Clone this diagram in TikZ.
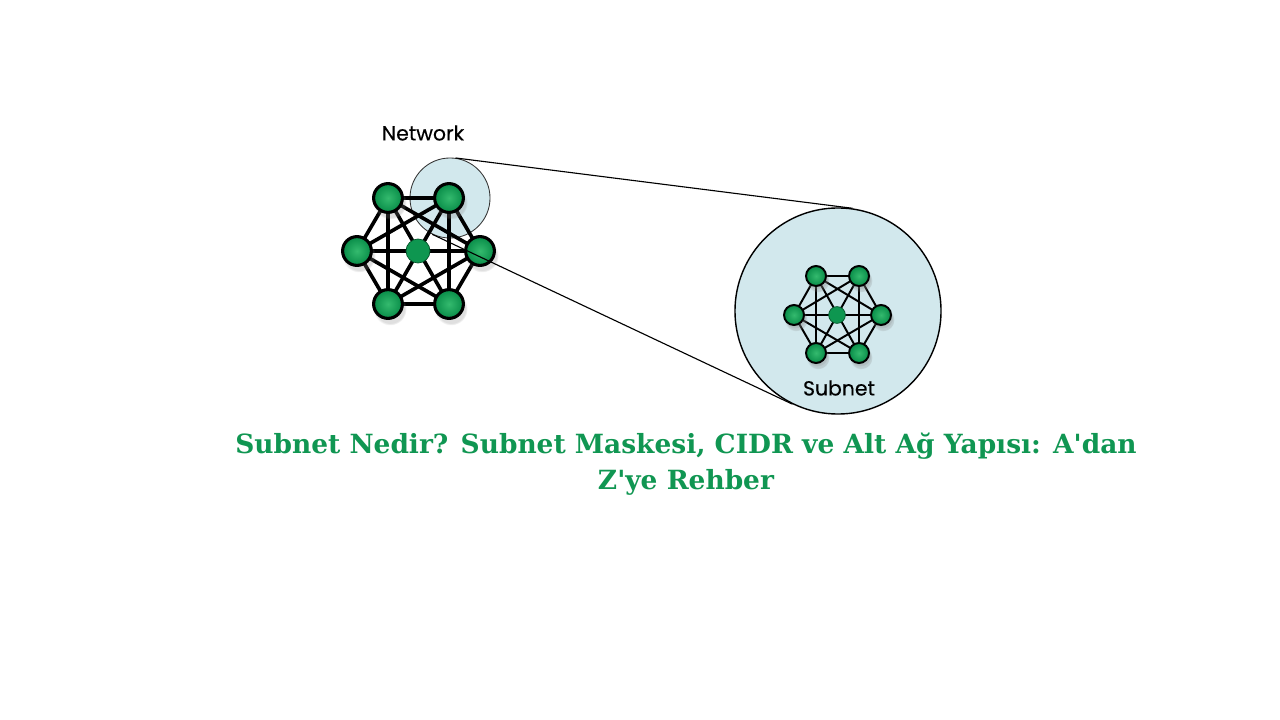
\documentclass[tikz,border=0pt]{standalone}
\usepackage{fontspec}
\newfontfamily\titlefont{DejaVu Serif}
\newfontfamily\labelfont[FakeBold=0.4]{Poppins}
\usepackage{tikz}
\usetikzlibrary{shadows}
\definecolor{nodegreen}{RGB}{8,140,72}
\definecolor{nodelight}{RGB}{52,186,110}
\definecolor{hubgreen}{RGB}{14,150,80}
\definecolor{zoomblue}{RGB}{210,232,237}
\definecolor{titlegreen}{RGB}{16,150,82}
\tikzset{
  host/.style={circle,draw=black,line width=2.2pt,inner sep=0pt,minimum size=0.72cm,inner color=nodelight,outer color=nodegreen,circular drop shadow={shadow xshift=0.3ex,shadow yshift=-0.7ex,opacity=0.25,shadow scale=1.15}},
  hub/.style={circle,draw=nodegreen!60!black,line width=0.5pt,inner sep=0pt,minimum size=0.6cm,fill=hubgreen},
  subhost/.style={host,line width=1.4pt,minimum size=0.5cm,circular drop shadow={shadow xshift=0.2ex,shadow yshift=-0.4ex,opacity=0.2}},
  subhub/.style={hub,minimum size=0.42cm},
  link/.style={line width=2.6pt},
  sublink/.style={line width=1.4pt}
}
\begin{document}
\begin{tikzpicture}[x=0.025cm,y=-0.025cm]
  \useasboundingbox (0,0) rectangle (1280,720);
  % magnifier circles
  \node[circle,draw=black!80,line width=0.6pt,fill=zoomblue,minimum size=2cm,inner sep=0pt] (lens) at (450,198) {};
  \node[circle,draw=black,line width=1pt,fill=zoomblue,minimum size=5.15cm,inner sep=0pt] (zoom) at (838,311) {};
  % network
  \node[font=\labelfont\fontsize{14.5}{16}\selectfont] (netlabel) at (423,133) {Network};
  \coordinate (n1) at (388,198);
  \coordinate (n2) at (449,198);
  \coordinate (n3) at (480,251);
  \coordinate (n4) at (449,304);
  \coordinate (n5) at (388,304);
  \coordinate (n6) at (357,251);
  \foreach \a in {1,...,6}
    \foreach \b in {1,...,6}
      {\ifnum\a<\b \draw[link] (n\a) -- (n\b); \fi}
  \foreach \a in {1,...,6}
    \node[host] (host\a) at (n\a) {};
  \node[hub] (hub) at (418,251) {};
  % subnet
  \coordinate (s1) at (816,276);
  \coordinate (s2) at (859,276);
  \coordinate (s3) at (881,315);
  \coordinate (s4) at (859,353);
  \coordinate (s5) at (816,353);
  \coordinate (s6) at (794,315);
  \foreach \a in {1,...,6}
    \foreach \b in {1,...,6}
      {\ifnum\a<\b \draw[sublink] (s\a) -- (s\b); \fi}
  \foreach \a in {1,...,6}
    \node[subhost] (subhost\a) at (s\a) {};
  \node[subhub] (subhub) at (837,315) {};
  \node[font=\labelfont\fontsize{14.5}{16}\selectfont] (sublabel) at (839,388) {Subnet};
  % tangents
  \draw[line width=0.8pt] (lens.82.7) -- (zoom.82.7);
  \draw[line width=0.8pt] (lens.244.8) -- (zoom.244.8);
  % title
  \node[font=\titlefont\bfseries\fontsize{18.8}{26}\selectfont,text=titlegreen,align=center] (title) at (686,464) {Subnet Nedir? Subnet Maskesi, CIDR ve Alt Ağ Yapısı: A'dan\\Z'ye Rehber};
\end{tikzpicture}
\end{document}
